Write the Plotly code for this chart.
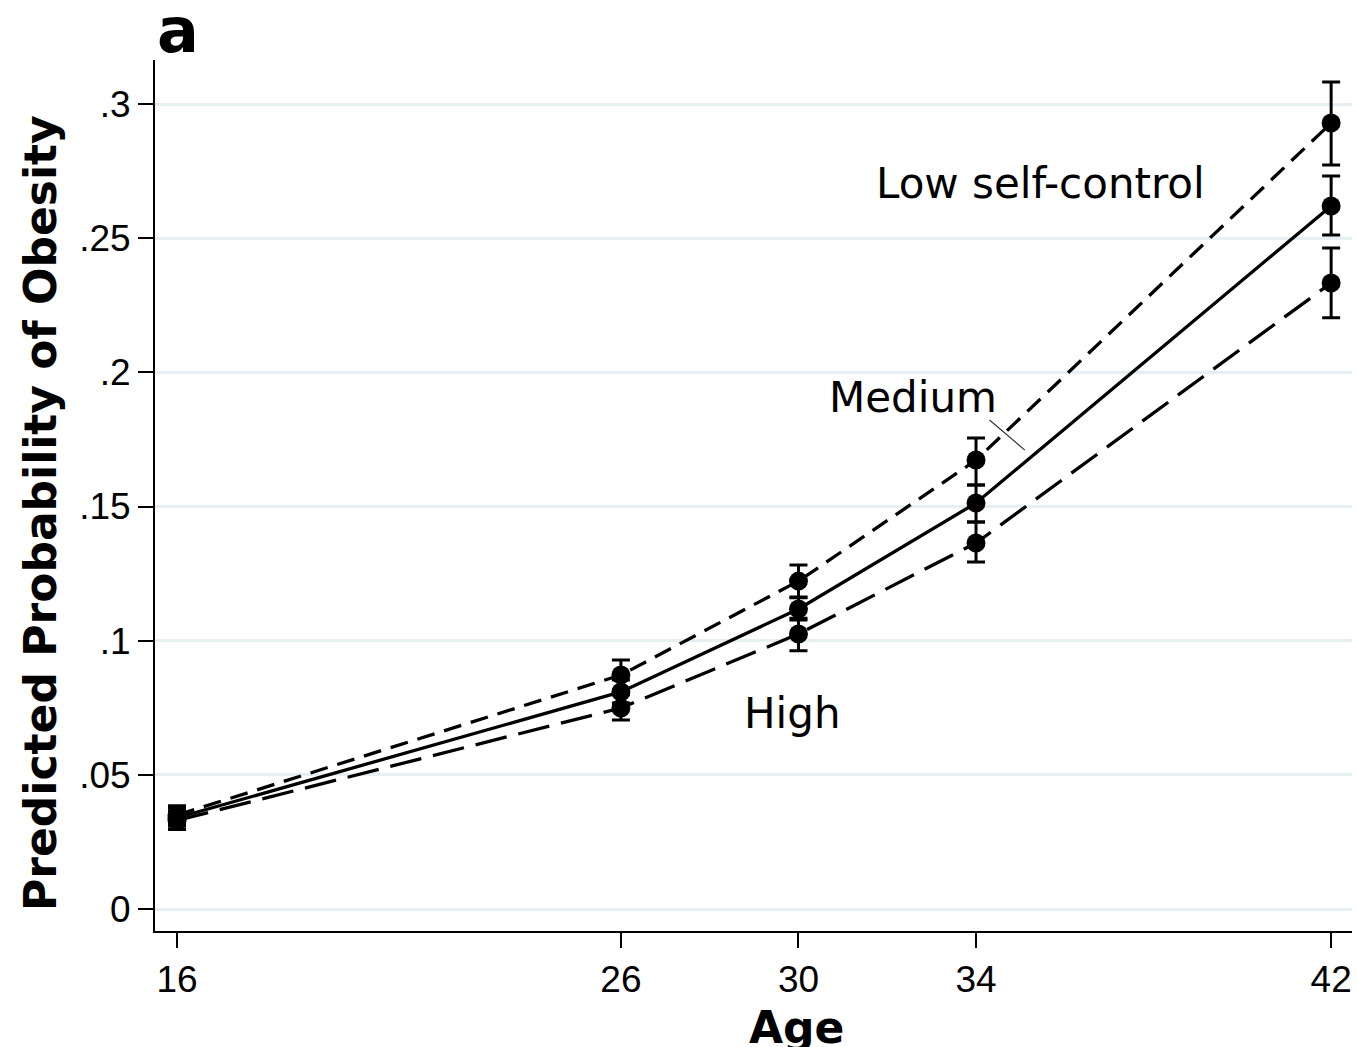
import plotly.graph_objects as go

# Ages at which obesity was assessed
ages = [16, 26, 30, 34, 42]

# Predicted probability of obesity by childhood self-control group
low_p = [0.035, 0.0872, 0.1222, 0.1673, 0.2929]
low_hi = [0.0385, 0.0928, 0.1282, 0.1755, 0.3082]
low_lo = [0.0318, 0.0816, 0.1160, 0.1580, 0.2773]

med_p = [0.034, 0.0809, 0.1118, 0.1513, 0.2620]
med_hi = [0.0375, 0.0853, 0.1163, 0.1580, 0.2732]
med_lo = [0.0308, 0.0768, 0.1077, 0.1442, 0.2512]

high_p = [0.033, 0.0749, 0.1025, 0.1364, 0.2333]
high_hi = [0.0365, 0.0798, 0.1084, 0.1442, 0.2463]
high_lo = [0.0296, 0.0704, 0.0962, 0.1293, 0.2203]

y_ticks = [0, 0.05, 0.1, 0.15, 0.2, 0.25, 0.3]
y_tick_text = ["0", ".05", ".1", ".15", ".2", ".25", ".3"]

groups = [
    ("Low self-control", low_p, low_hi, low_lo, "18px,10px"),
    ("Medium", med_p, med_hi, med_lo, "solid"),
    ("High", high_p, high_hi, high_lo, "32px,12px"),
]

fig = go.Figure()
for name, p, hi, lo, dash in groups:
    fig.add_trace(go.Scatter(
        x=ages, y=p, name=name, mode="lines+markers",
        line=dict(color="black", width=3.3, dash=dash),
        marker=dict(color="black", size=19),
        error_y=dict(
            type="data", symmetric=False,
            array=[h - v for h, v in zip(hi, p)],
            arrayminus=[v - l for v, l in zip(p, lo)],
            color="black", thickness=3, width=9,
        ),
        showlegend=False,
    ))

sans = "DejaVu Sans, Verdana, sans-serif"
label_font = dict(family=sans, size=42, color="black")
fig.add_annotation(x=35.45, y=0.2702, text="Low self-control", showarrow=False, font=label_font)
fig.add_annotation(x=32.58, y=0.1908, text="Medium", showarrow=False, font=label_font)
fig.add_annotation(x=29.86, y=0.073, text="High", showarrow=False, font=label_font)
# leader line from the "Medium" label to its curve
fig.add_annotation(x=35.1, y=0.1710, ax=34.27, ay=0.1827, axref="x", ayref="y",
                   text="", showarrow=True, arrowhead=0, arrowwidth=1.2, arrowcolor="#333")

# panel letter
fig.add_annotation(x=0.0, y=1.0, xref="paper", yref="paper", xanchor="left", yanchor="middle",
                   yshift=30, text="<b>a</b>", showarrow=False,
                   font=dict(family=sans, size=62, color="black"))

# axis titles
title_font = dict(family=sans, size=44, color="black")
fig.add_annotation(x=0.536, y=0, xref="paper", yref="paper", yanchor="middle",
                   yshift=-96, text="<b>Age</b>", showarrow=False, font=title_font)
fig.add_annotation(x=0, y=0.48, xref="paper", yref="paper", xanchor="center",
                   xshift=-114, text="<b>Predicted Probability of Obesity</b>",
                   textangle=-90, showarrow=False, font=title_font)

tick_font = dict(family="Liberation Sans, Arial, sans-serif", size=37, color="black")
fig.update_layout(
    width=1357, height=1047,
    margin=dict(l=155, r=5, t=60, b=116),
    paper_bgcolor="white", plot_bgcolor="white",
    xaxis=dict(
        range=[15.504, 42.47], tickvals=ages, ticktext=[str(a) for a in ages],
        ticks="outside", ticklen=15, tickwidth=2, tickcolor="black",
        showline=True, linecolor="black", linewidth=2, showgrid=False, zeroline=False,
        tickfont=tick_font,
    ),
    yaxis=dict(
        range=[-0.0082, 0.3164], tickvals=y_ticks, ticktext=y_tick_text,
        ticks="outside", ticklen=15, tickwidth=2, tickcolor="black",
        showline=True, linecolor="black", linewidth=2,
        showgrid=True, gridcolor="#e6eff1", gridwidth=3, zeroline=False,
        tickfont=tick_font,
    ),
)

fig.write_html("out.html")
